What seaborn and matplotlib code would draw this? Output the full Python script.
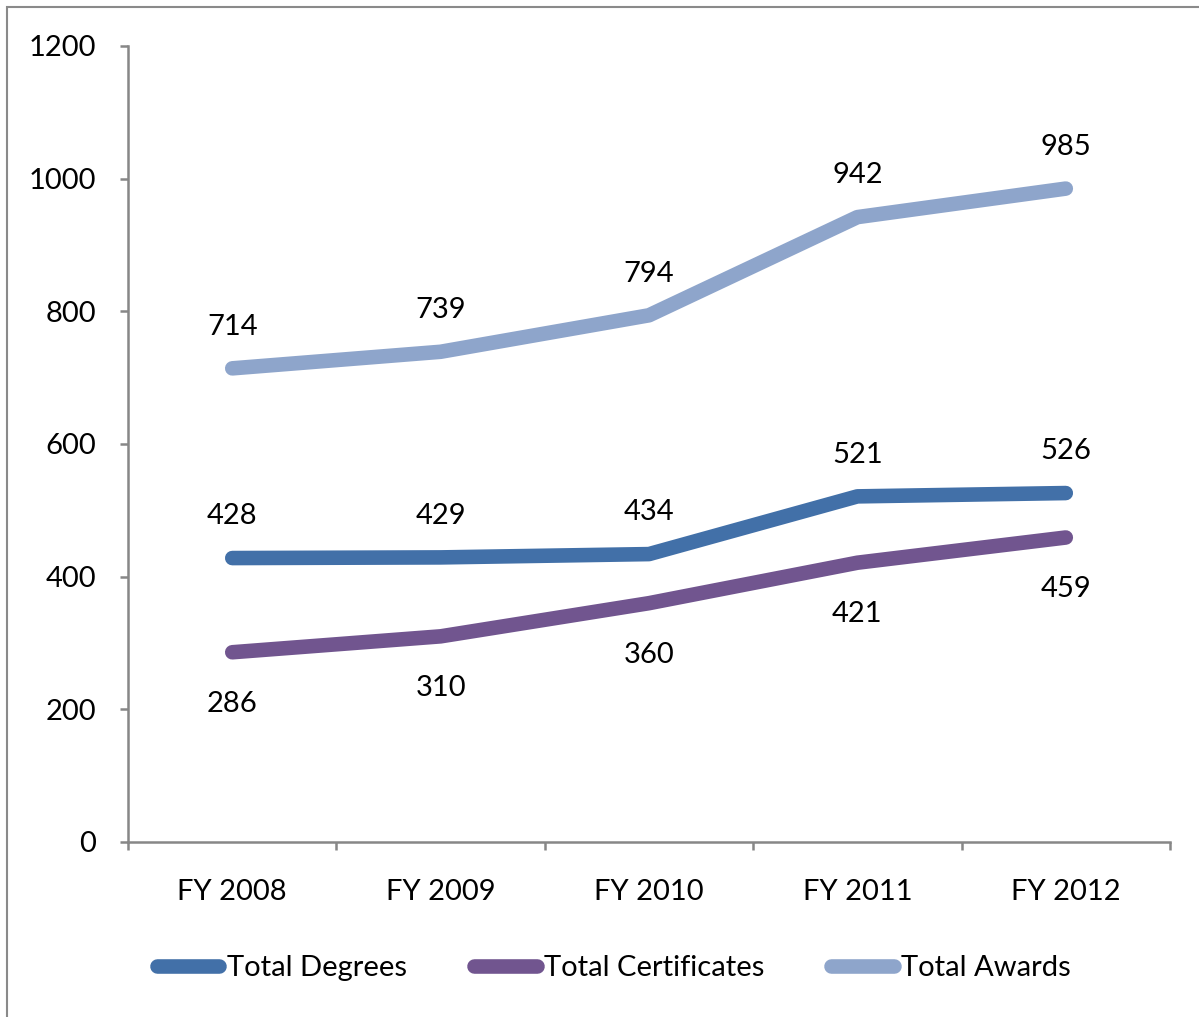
import numpy as np
import pandas as pd
import seaborn as sns
import matplotlib.pyplot as plt
from matplotlib.lines import Line2D
from matplotlib.patches import Rectangle

years = ['FY 2008', 'FY 2009', 'FY 2010', 'FY 2011', 'FY 2012']
degrees = [428, 429, 434, 521, 526]
certificates = [286, 310, 360, 421, 459]
awards = [714, 739, 794, 942, 985]

series_names = ['Total Degrees', 'Total Certificates', 'Total Awards']
colors = ['#4270A8', '#71558F', '#8EA5CB']

df = pd.DataFrame({
    'year': years * 3,
    'value': degrees + certificates + awards,
    'series': np.repeat(series_names, len(years)),
})

sns.set_style('white')
plt.rcParams['font.family'] = ['Lato', 'DejaVu Sans']
plt.rcParams['text.color'] = 'black'
plt.rcParams['xtick.labelcolor'] = 'black'
plt.rcParams['ytick.labelcolor'] = 'black'

fig = plt.figure(figsize=(11.99, 10.17), dpi=100)
ax = fig.add_axes([0.1068, 0.1721, 0.869, 0.7827])

sns.lineplot(data=df, x='year', y='value', hue='series', palette=dict(zip(series_names, colors)),
             linewidth=10.5, solid_capstyle='round', solid_joinstyle='round', legend=False, ax=ax)

# data labels: awards/degrees above, certificates below
x = np.arange(len(years))
for xi, v in zip(x, awards):
    ax.annotate(str(v), (xi, v), xytext=(0, 30), textcoords='offset points', ha='center', va='center', fontsize=21)
for xi, v in zip(x, degrees):
    ax.annotate(str(v), (xi, v), xytext=(0, 30), textcoords='offset points', ha='center', va='center', fontsize=21)
for xi, v in zip(x, certificates):
    ax.annotate(str(v), (xi, v), xytext=(0, -37), textcoords='offset points', ha='center', va='center', fontsize=21)

ax.set_xlim(-0.5, 4.5)
ax.set_ylim(0, 1200)
ax.set_yticks(range(0, 1201, 200))
ax.set_xticks(x)
ax.set_xticks(np.arange(-0.5, 4.6, 1), minor=True)
ax.set_xticklabels(years)
ax.set_xlabel('')
ax.set_ylabel('')

gray = '#878787'
for s in ['top', 'right']:
    ax.spines[s].set_visible(False)
for s in ['left', 'bottom']:
    ax.spines[s].set_color(gray)
    ax.spines[s].set_linewidth(1.8)

ax.tick_params(axis='x', which='major', length=0, pad=27, labelsize=21)
ax.tick_params(axis='x', which='minor', length=6, width=1.8, color=gray, direction='out', bottom=True)
ax.tick_params(axis='y', length=6, width=1.8, color=gray, direction='out', left=True, pad=17, labelsize=21)

handles = [Line2D([0], [0], color=c, linewidth=10.5, solid_capstyle='round') for c in colors]
fig.legend(handles, series_names, loc='center', bbox_to_anchor=(0.512, 0.048), ncol=3, frameon=False,
           fontsize=21, handlelength=2.15, handletextpad=0.25, columnspacing=2.3)

# outer chart border
fig.patches.append(Rectangle((0.006, -0.01), 1.0, 1.003, transform=fig.transFigure,
                             fill=False, edgecolor='#8a8a8a', linewidth=1.5))

fig.savefig('out.png', dpi=100)
